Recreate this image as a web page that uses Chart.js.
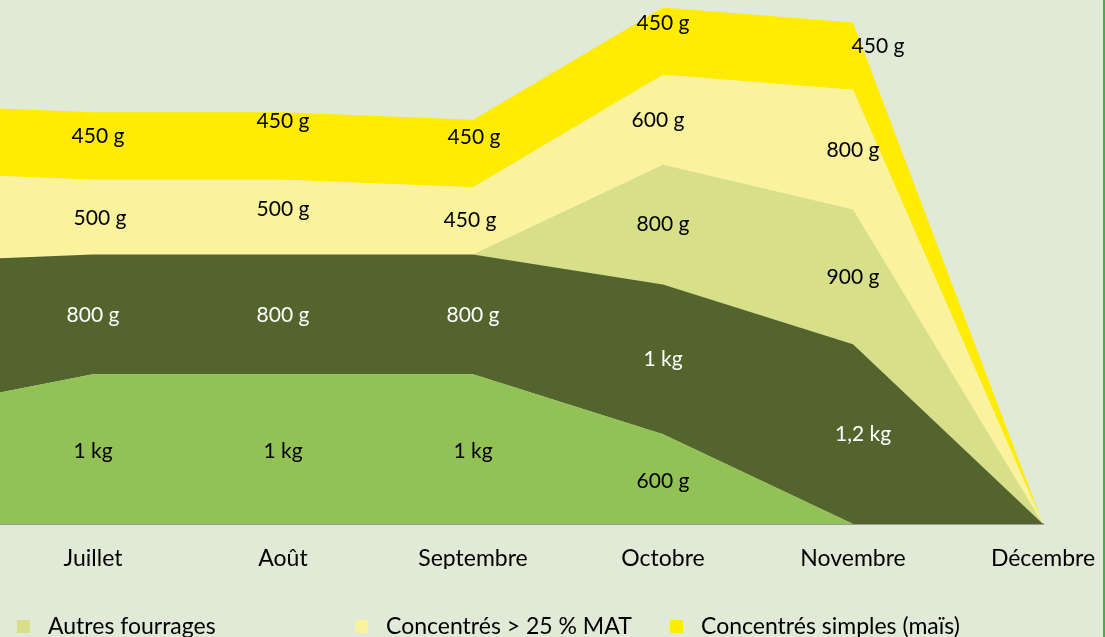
<!DOCTYPE html>
<html><head><meta charset="utf-8">
<script src="https://cdn.jsdelivr.net/npm/chart.js@4.4.1/dist/chart.umd.min.js"></script>
<style>
html,body{margin:0;padding:0;background:#E0EAD6;overflow:hidden}
#wrap{position:relative;width:1105px;height:637px;background:#E0EAD6}
canvas{display:block}
#edge{position:absolute;left:1103px;top:0;width:2px;height:637px;background:#52A852}
</style></head><body>
<div id="wrap"><canvas id="c" width="1105" height="637"></canvas><div id="edge"></div></div>
<script>
// Categories (first one, Juin, lies outside the visible area at the left)
const categories = ['Juin','Juillet','Août','Septembre','Octobre','Novembre','Décembre'];
// Series values in kg, bottom to top of the stack
const serieVertClair = [0.75, 1, 1, 1, 0.6, 0, 0];
const serieVertFonce = [1.0, 0.8, 0.8, 0.8, 1.0, 1.2, 0];
const autresFourrages = [0, 0, 0, 0, 0.8, 0.9, 0];
const concentres25 = [0.6, 0.5, 0.5, 0.45, 0.6, 0.8, 0];
const concentresSimples = [0.45, 0.45, 0.45, 0.45, 0.45, 0.45, 0];
const seriesNames = ['Fourrage 1', 'Fourrage 2', 'Autres fourrages', 'Concentrés > 25 % MAT', 'Concentrés simples (maïs)'];

const allSeries = [serieVertClair, serieVertFonce, autresFourrages, concentres25, concentresSimples];
const colors = ['#92C156', '#54642D', '#D7E088', '#FAF29C', '#FFEC00'];
const labelColors = ['#000', '#fff', '#000', '#000', '#000'];
// label nudges (dx, dy) per visible category Juillet..Novembre
const labelNudge = [
  [[0,2],[0,2],[0,2],[0,2],[0,0]],
  [[0,1],[0,1],[0,1],[0,0],[10,0]],
  [[0,0],[0,0],[0,0],[0,0],[0,0]],
  [[7,1],[0,-8],[-3,-1],[-5,0],[0,1]],
  [[5,-10],[0,-25],[1,-16],[0,-18],[25,-10]]
];
const legendItems = [{ds:2, x:17}, {ds:3, x:355}, {ds:4, x:670}];
const FONT = 'Lato, "Open Sans", sans-serif';

function fmt(v){
  if (v >= 1) return String(v).replace('.', ',') + ' kg';
  return Math.round(v*1000) + ' g';
}

const datasets = allSeries.map((arr, d) => ({
  label: seriesNames[d],
  data: categories.map((c, i) => ({x: i - 1, y: arr[i]})),
  backgroundColor: colors[d],
  borderColor: colors[d],
  borderWidth: 0,
  pointRadius: 0,
  tension: 0,
  fill: d === 0 ? 'origin' : '-1'
}));

const labelPlugin = {
  id: 'bandLabels',
  afterDatasetsDraw(chart){
    const ctx = chart.ctx, xs = chart.scales.x, ys = chart.scales.y;
    ctx.save();
    ctx.font = '21px ' + FONT;
    ctx.textAlign = 'center';
    ctx.textBaseline = 'middle';
    allSeries.forEach((arr, d) => {
      for (let i = 1; i <= 5; i++){
        const v = arr[i];
        if (!(v > 0)) continue;
        let below = 0;
        for (let k = 0; k < d; k++) below += allSeries[k][i];
        const yTop = ys.getPixelForValue(below + v);
        const yBot = ys.getPixelForValue(below);
        const n = labelNudge[d][i-1];
        ctx.fillStyle = labelColors[d];
        ctx.fillText(fmt(v), xs.getPixelForValue(i-1) + n[0], (yTop + yBot)/2 + n[1]);
      }
    });
    ctx.restore();
  }
};

const legendPlugin = {
  id: 'fixedLegend',
  afterDraw(chart){
    const ctx = chart.ctx;
    ctx.save();
    ctx.font = '23px ' + FONT;
    ctx.textBaseline = 'middle';
    ctx.textAlign = 'left';
    legendItems.forEach(it => {
      ctx.fillStyle = colors[it.ds];
      ctx.fillRect(it.x, 620, 13, 13);
      ctx.fillStyle = '#000';
      ctx.fillText(seriesNames[it.ds], it.x + 31, 627);
    });
    ctx.restore();
  }
};

new Chart(document.getElementById('c'), {
  type: 'line',
  data: { datasets },
  options: {
    responsive: false,
    animation: false,
    events: [],
    layout: { padding: { left: 0, right: 62, top: 0, bottom: 68 } },
    plugins: { legend: { display: false }, tooltip: { enabled: false } },
    scales: {
      x: {
        type: 'linear',
        min: -93/190,
        max: 5,
        afterBuildTicks: s => { s.ticks = [0,1,2,3,4,5].map(v => ({value: v})); },
        afterFit: s => { s.height = 45; s.paddingLeft = 0; s.paddingRight = 0; },
        grid: { display: false, drawTicks: false },
        border: { display: true, color: '#9C9C9C', width: 2 },
        ticks: {
          autoSkip: false,
          maxRotation: 0,
          padding: 21,
          color: '#000',
          font: { family: FONT, size: 23 },
          callback: v => categories[v + 1]
        }
      },
      y: {
        display: false,
        stacked: true,
        min: 0,
        max: 3.5
      }
    }
  },
  plugins: [labelPlugin, legendPlugin]
});
</script>
</body></html>
